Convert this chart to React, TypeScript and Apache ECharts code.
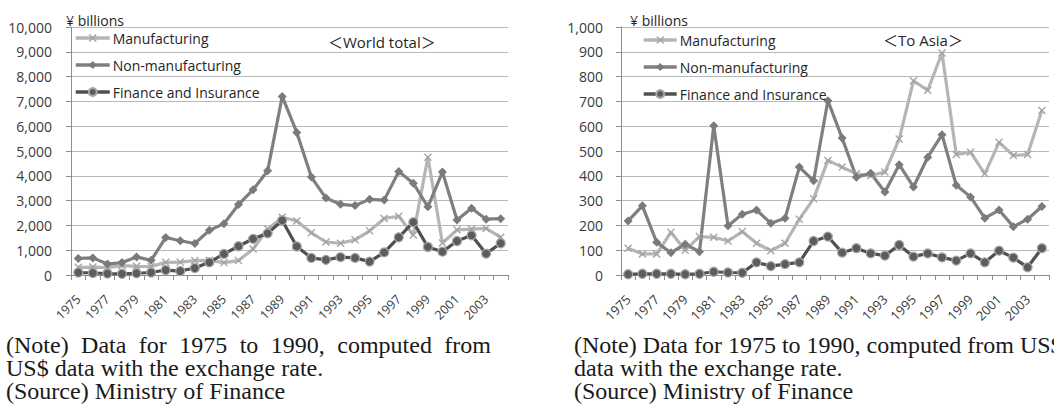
import React, { useEffect, useRef } from "react";
import * as echarts from "echarts";

const years = ["1975","1976","1977","1978","1979","1980","1981","1982","1983","1984","1985","1986","1987","1988","1989","1990","1991","1992","1993","1994","1995","1996","1997","1998","1999","2000","2001","2002","2003","2004"];

const worldManufacturing = [310,320,300,380,350,340,510,520,580,590,500,580,1050,1850,2330,2180,1700,1330,1280,1420,1780,2280,2370,1610,4750,1290,1820,1850,1880,1520];
const worldNonManufacturing = [670,690,440,500,730,590,1510,1380,1270,1800,2070,2840,3440,4200,7200,5750,3950,3100,2850,2800,3050,3020,4170,3700,2750,4150,2220,2690,2250,2270];
const worldFinance = [100,80,60,50,70,100,200,160,280,510,850,1160,1460,1680,2200,1150,690,610,720,690,540,910,1520,2130,1130,940,1370,1600,860,1280];

const asiaManufacturing = [108,85,85,172,100,155,152,137,175,128,98,128,225,307,462,435,408,401,415,548,783,745,895,486,495,408,535,482,486,663];
const asiaNonManufacturing = [218,279,132,90,124,94,602,199,245,262,209,229,435,380,703,552,394,410,335,445,355,475,566,362,315,229,262,195,225,276];
const asiaFinance = [3,5,5,5,3,5,13,10,9,51,36,44,51,137,155,90,108,87,78,121,74,87,71,58,87,51,98,70,31,108];

const seriesNames = ["Manufacturing", "Non-manufacturing", "Finance and Insurance"];
const unitLabel = "¥ billions";
const titleWorld = "＜World total＞";
const titleAsia = "＜To Asia＞";
const noteLeft1 = "(Note) Data for 1975 to 1990, computed from";
const noteLeft2 = "US$ data with the exchange rate.";
const noteRight1 = "(Note) Data for 1975 to 1990, computed from US$";
const noteRight2 = "data with the exchange rate.";
const sourceText = "(Source) Ministry of Finance";

const SANS = "'Open Sans', 'Noto Sans CJK JP', sans-serif";
const SERIF = "'Liberation Serif', serif";
const CROSS = "path://M0,1.2L1.2,0L5,3.8L8.8,0L10,1.2L6.2,5L10,8.8L8.8,10L5,6.2L1.2,10L0,8.8L3.8,5Z";
const NOTE_SIZE = 24;
const NOTE_LH = 23;

function measure(text: string, font: string): number {
  const c = document.createElement("canvas").getContext("2d");
  if (!c) return text.length * 10;
  c.font = font;
  return c.measureText(text).width;
}

function noteStyle(text: string) {
  return { text, font: `${NOTE_SIZE}px ${SERIF}`, fill: "#1a1a1a", verticalAlign: "top", lineHeight: NOTE_LH };
}

function justified(text: string, x0: number, x1: number, y: number) {
  const words = text.split(" ");
  const font = `${NOTE_SIZE}px 'Liberation Serif'`;
  const widths = words.map((w) => measure(w, font));
  const sum = widths.reduce((a, b) => a + b, 0);
  const gap = (x1 - x0 - sum) / (words.length - 1);
  let x = x0;
  return words.map((w, i) => {
    const el = { type: "text", x, y, style: noteStyle(w) };
    x += widths[i] + gap;
    return el;
  });
}

function makeSeries(idx: number, values: number[][]) {
  const [m, n, f] = values;
  return [
    {
      name: seriesNames[0], type: "line", xAxisIndex: idx, yAxisIndex: idx, data: m,
      symbol: CROSS, symbolSize: 8, showAllSymbol: true,
      lineStyle: { color: "#b5b5b5", width: 3.2 },
      itemStyle: { color: "#a3a3a3" },
    },
    {
      name: seriesNames[1], type: "line", xAxisIndex: idx, yAxisIndex: idx, data: n,
      symbol: "diamond", symbolSize: 9, showAllSymbol: true,
      lineStyle: { color: "#7f7f7f", width: 3.2 },
      itemStyle: { color: "#7a7a7a" },
    },
    {
      name: seriesNames[2], type: "line", xAxisIndex: idx, yAxisIndex: idx, data: f,
      symbol: "circle", symbolSize: 9, showAllSymbol: true,
      lineStyle: { color: "#505050", width: 3.2 },
      itemStyle: { color: "#5c5c5c", borderColor: "#a8a8a8", borderWidth: 1.2 },
    },
  ];
}

export default function App() {
  const ref = useRef<HTMLDivElement>(null);
  useEffect(() => {
    if (!ref.current) return;
    document.body.style.margin = "0";
    const chart = echarts.init(ref.current, undefined, { renderer: "svg" });
    const axisColor = "#8c8c8c";
    const gridColor = "#b9b9b9";
    const textColor = "#3a3a3a";
    const xAxis = (gi: number, fs: number) => ({
      gridIndex: gi, type: "category", data: years, boundaryGap: true,
      axisLine: { show: true, lineStyle: { color: axisColor, width: 1 } },
      axisTick: { show: true, interval: 0, length: 5, lineStyle: { color: axisColor } },
      axisLabel: { interval: 1, rotate: 45, fontSize: fs, fontFamily: SANS, color: textColor, margin: 22 },
      splitLine: { show: false },
    });
    const yAxis = (gi: number, max: number, interval: number, margin: number) => ({
      gridIndex: gi, type: "value", min: 0, max, interval,
      axisLine: { show: true, lineStyle: { color: axisColor, width: 1 } },
      axisTick: { show: true, length: 5, lineStyle: { color: axisColor } },
      axisLabel: {
        fontSize: 14, fontFamily: SANS, color: textColor, margin,
        formatter: (v: number) => v.toLocaleString("en-US"),
      },
      splitLine: { show: true, lineStyle: { color: gridColor, width: 1 } },
    });
    const legend = (left: number, top: number, w: number) => ({
      orient: "vertical", left, top, itemWidth: w, itemHeight: 10, itemGap: 11, padding: 0,
      data: seriesNames,
      lineStyle: { width: 3.5 },
      textStyle: { fontSize: 14, fontFamily: SANS, color: "#262626", lineHeight: 16, padding: [0, 0, 0, -2] },
      selectedMode: false,
    });
    const top1 = 345 - NOTE_LH / 2;
    const top2 = top1 + NOTE_LH;
    const elements: any[] = [
      { type: "text", x: 66, y: 20, style: { text: unitLabel, font: `14px ${SANS}`, fill: "#262626", verticalAlign: "middle" } },
      { type: "text", x: 630, y: 20, style: { text: unitLabel, font: `14px ${SANS}`, fill: "#262626", verticalAlign: "middle" } },
      { type: "text", x: 328, y: 42, style: { text: titleWorld, font: `15px ${SANS}`, fill: "#262626", verticalAlign: "middle" } },
      { type: "text", x: 883, y: 40, style: { text: titleAsia, font: `15px ${SANS}`, fill: "#262626", verticalAlign: "middle" } },
      ...justified(noteLeft1, 6, 491, top1),
      { type: "text", x: 6, y: top2, style: noteStyle(noteLeft2 + "\n" + sourceText) },
      { type: "text", x: 574, y: top1, style: noteStyle(noteRight1 + "\n" + noteRight2 + "\n" + sourceText) },
    ];
    chart.setOption({
      animation: false,
      backgroundColor: "#ffffff",
      grid: [
        { left: 71, top: 27, width: 437, height: 248 },
        { left: 621, top: 27, width: 428, height: 248 },
      ],
      xAxis: [xAxis(0, 12.5), xAxis(1, 13)],
      yAxis: [yAxis(0, 10000, 1000, 19), yAxis(1, 1000, 100, 18)],
      legend: [legend(74, 30, 34), legend(642, 32, 33)],
      series: [
        ...makeSeries(0, [worldManufacturing, worldNonManufacturing, worldFinance]),
        ...makeSeries(1, [asiaManufacturing, asiaNonManufacturing, asiaFinance]),
      ],
      graphic: { elements },
    });
    return () => chart.dispose();
  }, []);
  return <div ref={ref} style={{ position: "absolute", left: 0, top: 0, width: 1054, height: 405 }} />;
}
